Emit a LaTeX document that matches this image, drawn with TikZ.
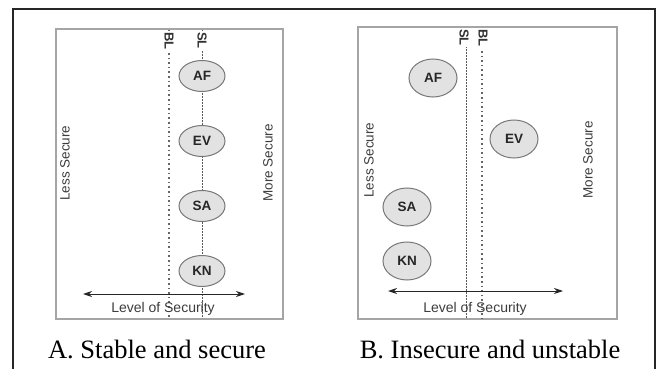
\documentclass[tikz,border=0pt]{standalone}
\usepackage{fontspec}
\setmainfont{Liberation Serif}
\setsansfont{Liberation Sans}
\usetikzlibrary{arrows.meta, positioning, shapes.geometric}
\definecolor{panelgray}{RGB}{165,165,165}
\definecolor{agentfill}{RGB}{226,226,226}
\definecolor{agentline}{RGB}{120,120,120}
\definecolor{textgray}{RGB}{60,60,60}

\begin{document}
\begin{tikzpicture}[x=1pt, y=-1pt,
  node distance=33pt and 20pt,
  frame/.style={draw=black!85, line width=1.4pt},
  panel/.style={draw=panelgray, line width=1.5pt},
  agent/.style={ellipse, draw=agentline, fill=agentfill, line width=1pt, inner sep=0pt, font=\sffamily\bfseries\fontsize{13.5}{13.5}\selectfont, text=black!85},
  agentA/.style={agent, minimum width=46pt, minimum height=31pt},
  agentB/.style={agent, minimum width=48pt, minimum height=38pt},
  baseline/.style={draw=black!60, line width=1.7pt, dash pattern=on 1.6pt off 3pt},
  secline/.style={draw=black!65, line width=0.8pt, dash pattern=on 1.8pt off 1.2pt},
  linelabel/.style={rotate=-90, anchor=west, fill=white, inner sep=1pt, font=\sffamily\bfseries\fontsize{13}{13}\selectfont, text=black!80},
  sidelabel/.style={rotate=90, font=\sffamily\fontsize{13.5}{13.5}\selectfont, text=textgray},
  axis/.style={{Stealth[length=9pt, width=6pt]}-{Stealth[length=9pt, width=6pt]}, draw=black!85, line width=1pt},
  axislabel/.style={font=\sffamily\fontsize{14}{14}\selectfont, text=textgray},
  caption/.style={font=\fontsize{26.5}{26.5}\selectfont}]

  \useasboundingbox (0,0) rectangle (659,369);

  % outer frame, open at the bottom
  \draw[frame] (13,369) -- (13,9) -- (655,9) -- (655,369);

  % panel A
  \draw[panel] (56,29) rectangle (283,319);
  \draw[baseline] (169,30) -- (169,318);
  \draw[secline] (202,30) -- (202,318);
  \node[linelabel] (blA) at (169,31) {BL};
  \node[linelabel] (slA) at (202,31) {SL};

  \node[agentA] (afA) at (202,76) {AF};
  \node[agentA, below=of afA] (evA) {EV};
  \node[agentA, below=of evA] (saA) {SA};
  \node[agentA, below=of saA] (knA) {KN};

  \node[sidelabel] (lessA) at (65,163) {Less Secure};
  \node[sidelabel] (moreA) at (268,163) {More Secure};

  \coordinate (arrowAl) at (83,294);
  \coordinate (arrowAr) at (245,294);
  \draw[axis] (arrowAl) -- (arrowAr);
  \node[axislabel] (levelA) at (163,309) {Level of Security};

  \node[caption] (capA) at (157,349) {A. Stable and secure};

  % panel B
  \draw[panel] (358,27) rectangle (617,319);
  \draw[secline] (466,28) -- (466,318);
  \draw[baseline] (482,28) -- (482,318);
  \node[linelabel] (slB) at (464,28) {SL};
  \node[linelabel] (blB) at (483,28) {BL};

  \node[agentB] (afB) at (433,78) {AF};
  \node[agentB] (evB) at (514,139) {EV};
  \node[agentB] (saB) at (407,207) {SA};
  \node[agentB] (knB) at (407,261) {KN};

  \node[sidelabel] (lessB) at (369,160) {Less Secure};
  \node[sidelabel] (moreB) at (588,160) {More Secure};

  \coordinate (arrowBl) at (388,291);
  \coordinate (arrowBr) at (563,291);
  \draw[axis] (arrowBl) -- (arrowBr);
  \node[axislabel] (levelB) at (475,309) {Level of Security};

  \node[caption] (capB) at (490,349) {B. Insecure and unstable};
\end{tikzpicture}
\end{document}
